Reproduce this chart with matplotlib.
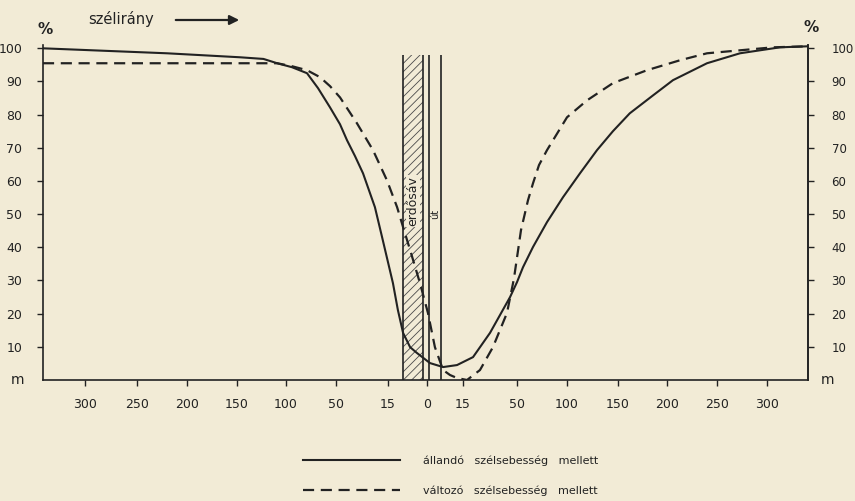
import numpy as np
import matplotlib
matplotlib.use('Agg')
import matplotlib.pyplot as plt
from matplotlib.patches import Rectangle

PAPER = '#f2ebd6'
INK = '#222222'

# Signed distance from the forest strip (m); negative = windward side
TICK_DIST = [-300, -250, -200, -150, -100, -50, -15, 0, 15, 50, 100, 150, 200, 250, 300]
TICK_LABELS = ['300', '250', '200', '150', '100', '50', '15', '0', '15',
               '50', '100', '150', '200', '250', '300']
Y_TICKS = [10, 20, 30, 40, 50, 60, 70, 80, 90, 100]

# állandó szélsebesség mellett (constant wind speed), % of open-field value
SOLID_D = [-340, -220, -147, -123, -109, -94, -79, -68, -56, -47.3, -42.6, -37.2,
           -31.8, -23.8, -19.0, -13.1, -11.2, -9.2, -6.5, -3.8, 1.25,
           6.7, 12.5, 21.5, 32.5, 45.5, 50, 56, 66, 80, 96, 112.7, 129.4, 145, 162,
           185.7, 206, 240, 273, 313, 340]
SOLID_P = [100.0, 98.5, 97.3, 96.8, 95.5, 94.3, 92.5, 88.0, 82.2, 77.1, 72.3, 67.5,
           62.3, 52.1, 43.1, 29.2, 21.1, 14.2, 9.9, 8.1, 5.1,
           3.9, 4.5, 6.9, 14.2, 25.0, 29.5, 34.0, 40.1, 47.6, 55.1, 62.3, 69.3, 75.0,
           80.4, 85.8, 90.4, 95.5, 98.5, 100.3, 100.6]

# változó szélsebesség mellett (variable wind speed)
DASHED_D = [-340, -116, -109, -94, -79, -66, -56, -47.3, -35.9, -25.1, -15.7, -11.5,
            -9.2, -6.5, -2.7, 0.4, 3.3, 6.7, 9.6, 12.5, 17.6, 26, 34.4, 43.5, 48, 54,
            61, 66, 72, 80, 100, 119.6, 145, 179.6, 213, 240, 306, 340]
DASHED_P = [95.5, 95.5, 95.5, 94.6, 93.4, 91.3, 88.6, 85.2, 77.4, 69.3, 60.2, 52.1,
            46.1, 39.2, 29.2, 20.2, 9.9, 3.0, 1.5, 0.6, 0.0, 3.0, 9.9, 20.2, 30.5, 45.2,
            54.2, 59.3, 64.8, 69.3, 79.2, 84.3, 89.5, 93.4, 96.4, 98.5, 100.3, 100.6]

LEGEND_LABELS = ['állandó   szélsebesség   mellett', 'változó   szélsebesség   mellett']

# distorted distance axis of the original drawing (distance -> drawing position)
AXIS_DIST = [-340] + TICK_DIST + [341]
AXIS_POS = [43, 85, 137, 187, 237, 286, 336, 388, 427, 463, 517, 567, 618, 667, 717, 767, 808]


def fwd(x):
    return np.interp(x, AXIS_DIST, AXIS_POS)


def inv(p):
    return np.interp(p, AXIS_POS, AXIS_DIST)


plt.rcParams['font.family'] = ['DejaVu Sans']
plt.rcParams['hatch.linewidth'] = 0.6

W, H = 855, 501
fig = plt.figure(figsize=(W / 100, H / 100), dpi=100, facecolor=PAPER)
ax = fig.add_axes([43 / W, 121 / H, (808 - 43) / W, 335 / H], facecolor=PAPER)
ax.set_xscale('function', functions=(fwd, inv))
ax.set_xlim(-340, 341)
ax.set_ylim(0, 101)

# forest strip and road
strip_l, strip_r, road_l, road_r, top = -9.2, -1.5, 0.8, 5.8, 97.9
ax.add_patch(Rectangle((strip_l, 0), strip_r - strip_l, top, facecolor='none',
                       edgecolor='#4a4a4a', linewidth=0, hatch='////', zorder=1))
ax.vlines([strip_l, strip_r, road_l, road_r], 0, top, color=INK, linewidth=1.2, zorder=2)
ax.text((strip_l + strip_r) / 2, 54, 'erdősáv', rotation=90, ha='center', va='center',
        fontsize=9, color=INK, zorder=3,
        bbox=dict(facecolor=PAPER, edgecolor='none', pad=0.6))
ax.text((road_l + road_r) / 2, 50, 'út', rotation=90, ha='center', va='center',
        fontsize=7, color=INK, zorder=3,
        bbox=dict(facecolor=PAPER, edgecolor='none', pad=0.3))

l1, = ax.plot(SOLID_D, SOLID_P, color=INK, linewidth=1.5, zorder=4,
              solid_joinstyle='round')
l2, = ax.plot(DASHED_D, DASHED_P, color=INK, linewidth=1.6, linestyle=(0, (5, 3)),
              zorder=4)

ax.spines['top'].set_visible(False)
for s in ['left', 'right', 'bottom']:
    ax.spines[s].set_linewidth(1.2)
    ax.spines[s].set_color(INK)

ax.set_xticks(TICK_DIST)
ax.set_xticklabels(TICK_LABELS)
ax.xaxis.set_minor_locator(matplotlib.ticker.NullLocator())
ax.tick_params(axis='x', direction='out', length=4, width=1, pad=9,
               labelsize=9, colors=INK)
ax.set_yticks(Y_TICKS)
ax.tick_params(axis='y', direction='out', length=4, width=1, pad=11,
               labelsize=9, colors=INK, left=True, labelleft=True)

ax2 = ax.twinx()
ax2.set_ylim(0, 101)
ax2.set_yticks(Y_TICKS)
ax2.tick_params(axis='y', direction='out', length=4, width=1, pad=13,
                labelsize=8.5, colors=INK)
for s in ['top', 'left', 'bottom']:
    ax2.spines[s].set_visible(False)
ax2.spines['right'].set_linewidth(1.2)
ax2.spines['right'].set_color(INK)

# annotations
fig.text(37 / W, 1 - 30 / H, '%', fontsize=11, fontweight='bold', color=INK,
         ha='left', va='center')
fig.text(803 / W, 1 - 27 / H, '%', fontsize=11, fontweight='bold', color=INK,
         ha='left', va='center')
fig.text(11 / W, 1 - 380 / H, 'm', fontsize=10, color=INK, ha='left', va='center')
fig.text(821 / W, 1 - 380 / H, 'm', fontsize=10, color=INK, ha='left', va='center')
fig.text(88 / W, 1 - 19 / H, 'szélirány', fontsize=10.5, color=INK, ha='left', va='center')
fig.add_artist(matplotlib.patches.FancyArrowPatch(
    (173 / W, 1 - 20 / H), (242 / W, 1 - 20 / H), transform=fig.transFigure,
    arrowstyle='-|>', mutation_scale=14, linewidth=1.6, color=INK))

leg = ax.legend([l1, l2], LEGEND_LABELS, loc='upper left',
                bbox_to_anchor=(303 / W, 1 - 455 / H), bbox_transform=fig.transFigure,
                frameon=False, handlelength=8.75, handletextpad=2.05, labelspacing=1.8,
                fontsize=8, borderpad=0, borderaxespad=0)
for t in leg.get_texts():
    t.set_color(INK)

fig.savefig('out.png', dpi=100, facecolor=PAPER)
